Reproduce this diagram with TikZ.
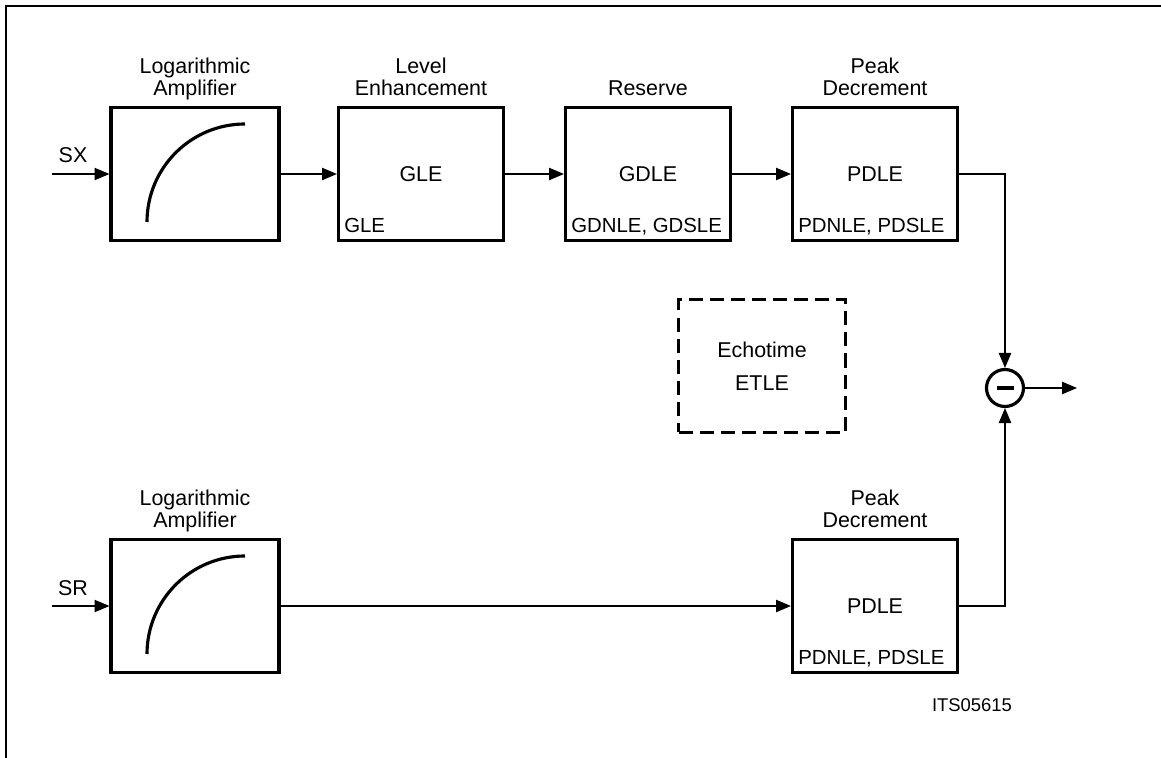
\documentclass[tikz,border=0pt]{standalone}
\usepackage{fontspec}
\setmainfont{Liberation Sans}
\usetikzlibrary{arrows.meta,positioning}

\begin{document}
\begin{tikzpicture}[x=0.02cm,y=0.02cm,
    font=\fontsize{12.2}{13}\selectfont,
    block/.style={draw,line width=1.8pt,minimum width=3.3cm,minimum height=2.66cm,inner sep=0pt},
    title/.style={align=center,text depth=3pt,inner sep=1pt},
    corner/.style={anchor=base west,inner sep=0pt,font=\fontsize{11.6}{13}\selectfont},
    wire/.style={line width=0.8pt},
    conn/.style={wire,-{Triangle[length=8.5pt,width=7pt]}},
    curve/.style={line width=1.8pt}]
  \useasboundingbox (0,0) rectangle (1161,758);
  % Frame
  \draw[wire] (6,0) -- (6,752) -- (1161,752);

  % Upper chain
  \coordinate (sx) at (52,584);
  \node (sxlab) at (73,603) {SX};
  \node[block,minimum width=3.36cm] (la1) at (195,584) {};
  \node[block] (gle) at (421,584) {GLE};
  \node[block] (gdle) at (648,584) {GDLE};
  \node[block] (pdle1) at (875,584) {PDLE};
  \draw[curve] ([shift={(-48,-48)}]la1.center) arc (180:90:98);

  \node[title,above=1.5pt of la1] (la1t) {Logarithmic\\Amplifier};
  \node[title,above=1.5pt of gle] (glet) {Level\\Enhancement};
  \node[title,above=1.5pt of gdle] (gdlet) {Reserve};
  \node[title,above=1.5pt of pdle1] (pdle1t) {Peak\\Decrement};

  \node[corner] (glec) at ([shift={(7,10)}]gle.south west) {GLE};
  \node[corner] (gdlec) at ([shift={(7,10)}]gdle.south west) {GDNLE, GDSLE};
  \node[corner] (pdle1c) at ([shift={(7,10)}]pdle1.south west) {PDNLE, PDSLE};

  \draw[conn] (sx) -- (la1);
  \draw[conn] (la1) -- (gle);
  \draw[conn] (gle) -- (gdle);
  \draw[conn] (gdle) -- (pdle1);

  % Echotime
  \node[block,dash pattern=on 8pt off 4pt,minimum width=3.34cm,align=center] (echo) at (762,392) {Echotime\\[6pt]ETLE};

  % Subtraction
  \node[draw,circle,line width=1.8pt,minimum size=0.74cm,inner sep=0pt] (sum) at (1005,370) {};
  \draw[curve] ([xshift=-0.17cm]sum.center) -- ([xshift=0.17cm]sum.center);
  \coordinate (out) at (1077,370);
  \draw[conn] (pdle1) -| (sum);
  \draw[conn] (sum) -- (out);

  % Lower chain
  \coordinate (sr) at (52,152);
  \node (srlab) at (73,170) {SR};
  \node[block,minimum width=3.36cm] (la2) at (195,152) {};
  \node[block] (pdle2) at (875,152) {PDLE};
  \draw[curve] ([shift={(-48,-48)}]la2.center) arc (180:90:98);

  \node[title,above=1.5pt of la2] (la2t) {Logarithmic\\Amplifier};
  \node[title,above=1.5pt of pdle2] (pdle2t) {Peak\\Decrement};
  \node[corner] (pdle2c) at ([shift={(7,10)}]pdle2.south west) {PDNLE, PDSLE};

  \draw[conn] (sr) -- (la2);
  \draw[conn] (la2) -- (pdle2);
  \draw[conn] (pdle2) -| (sum);

  \node[font=\fontsize{10.5}{12}\selectfont] (code) at (972,53) {ITS05615};
\end{tikzpicture}
\end{document}
